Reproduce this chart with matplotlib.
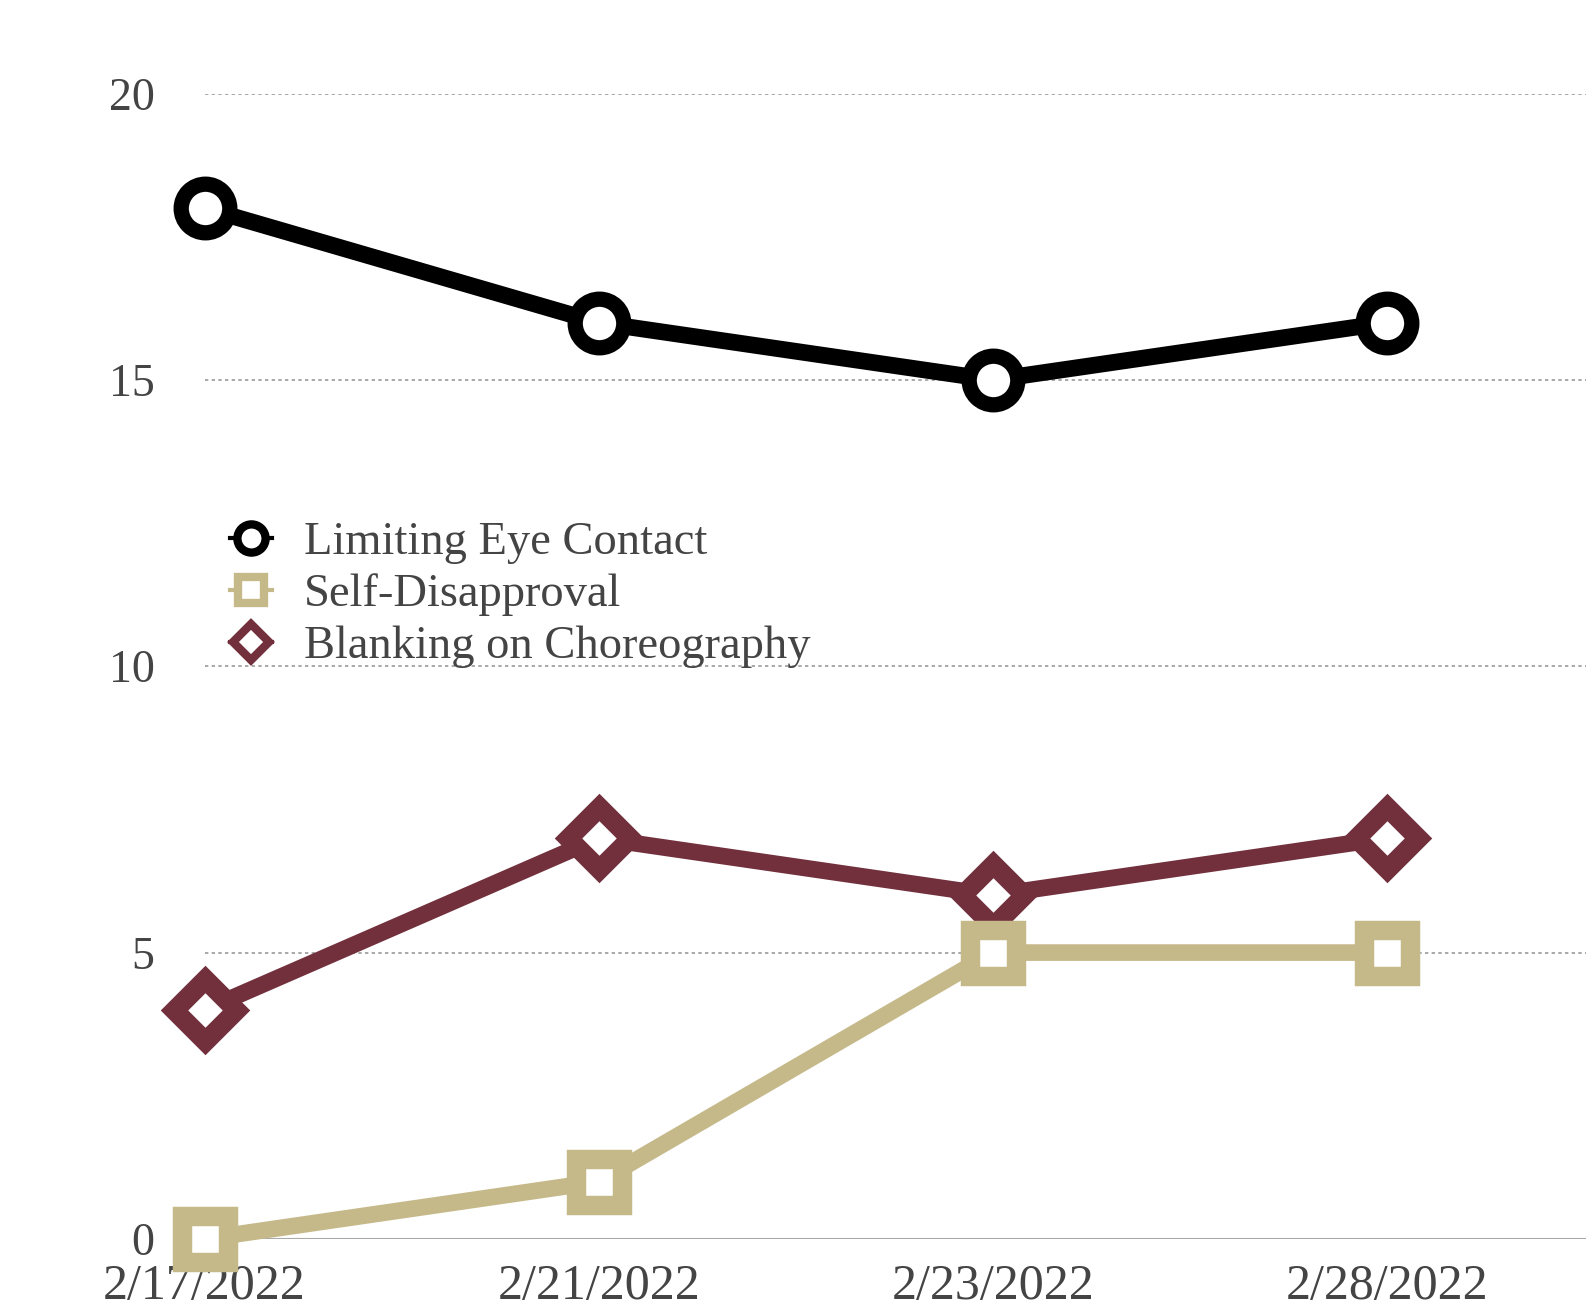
import matplotlib
matplotlib.use("Agg")
import matplotlib.pyplot as plt

plt.rcParams['font.family'] = ['Liberation Serif', 'DejaVu Serif']

# data
dates = ['2/17/2022', '2/21/2022', '2/23/2022', '2/28/2022']
eye_contact = [18, 16, 15, 16]
self_disapproval = [0, 1, 5, 5]
blanking = [4, 7, 6, 7]
y_ticks = [0, 5, 10, 15, 20]

fig = plt.figure(figsize=(15.86, 13.0), dpi=100)
ax = fig.add_axes([0.129, 0.047, 0.871, 0.881])

x = list(range(len(dates)))

ax.plot(x, blanking, '-', color='#722F3C', lw=12, marker='D', ms=32,
        mfc='white', mec='#722F3C', mew=14, label='Blanking on Choreography',
        zorder=3, clip_on=False)
ax.plot(x, self_disapproval, '-', color='#C5B98A', lw=12, marker='s', ms=33,
        mfc='white', mec='#C5B98A', mew=14, label='Self-Disapproval',
        zorder=4, clip_on=False)
ax.plot(x, eye_contact, '-', color='black', lw=12, marker='o', ms=35,
        mfc='white', mec='black', mew=11, label='Limiting Eye Contact',
        zorder=5, clip_on=False)

ax.set_xlim(0, 3.505)
ax.set_ylim(0, 20)
ax.set_yticks(y_ticks)
ax.set_xticks(x)
ax.set_xticklabels(dates)

for yv in y_ticks[1:]:
    ax.axhline(yv, color='#999999', lw=1.2, ls=(0, (2, 2)), zorder=1)
ax.axhline(0, color='#aaaaaa', lw=1.5, zorder=1)

for s in ax.spines.values():
    s.set_visible(False)
ax.tick_params(axis='both', length=0, colors='#444444')
ax.tick_params(axis='y', pad=36, labelsize=33)
ax.tick_params(axis='x', pad=18, labelsize=36)

h, l = ax.get_legend_handles_labels()
order = [2, 1, 0]
leg = ax.legend([h[i] for i in order], [l[i] for i in order],
                loc='upper left', bbox_to_anchor=(-0.012, 0.663), frameon=False,
                fontsize=33.5, handlelength=0.9, handletextpad=0.7,
                labelspacing=0.2, markerscale=0.58)
for t in leg.get_texts():
    t.set_color('#444444')
for lh in leg.legend_handles:
    lh.set_markeredgewidth(6)
    lh.set_linewidth(3)

fig.savefig('out.png', dpi=100)
